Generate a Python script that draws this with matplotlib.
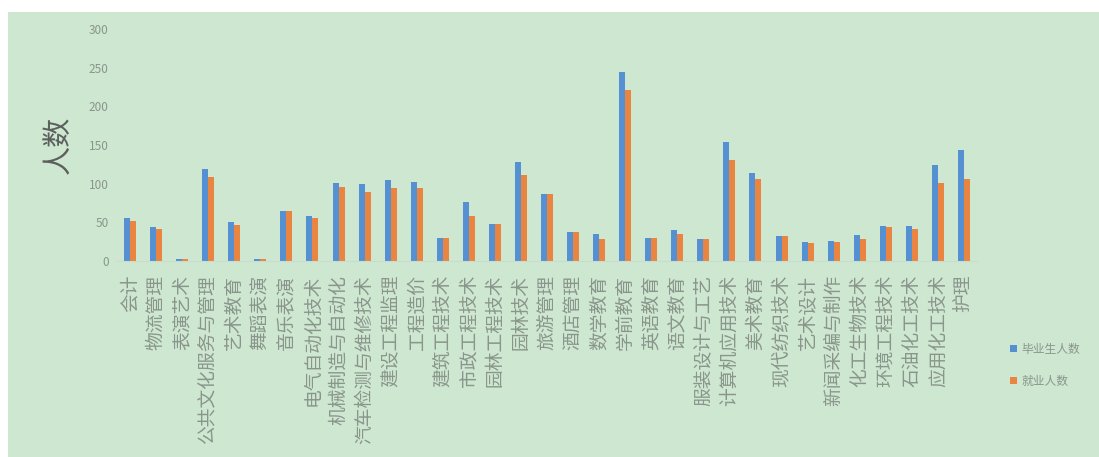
import numpy as np
from matplotlib import pyplot as plt
from matplotlib.patches import Rectangle

plt.rcParams['font.family'] = ['Noto Sans CJK SC', 'DejaVu Sans']

majors = ["会计", "物流管理", "表演艺术", "公共文化服务与管理", "艺术教育", "舞蹈表演",
          "音乐表演", "电气自动化技术", "机械制造与自动化", "汽车检测与维修技术",
          "建设工程监理", "工程造价", "建筑工程技术", "市政工程技术", "园林工程技术",
          "园林技术", "旅游管理", "酒店管理", "数学教育", "学前教育", "英语教育",
          "语文教育", "服装设计与工艺", "计算机应用技术", "美术教育", "现代纺织技术",
          "艺术设计", "新闻采编与制作", "化工生物技术", "环境工程技术", "石油化工技术",
          "应用化工技术", "护理"]

graduates = [55, 44, 3, 119, 51, 3, 65, 58, 101, 99, 105, 102, 30, 76, 48, 128, 87,
             38, 35, 245, 30, 40, 29, 154, 114, 32, 24, 26, 33, 45, 45, 124, 144]
employed = [52, 42, 2, 108, 46, 2, 65, 55, 96, 89, 95, 94, 30, 58, 48, 111, 87,
            38, 29, 221, 30, 35, 29, 130, 106, 32, 23, 25, 29, 44, 41, 101, 106]

series_names = ["毕业生人数", "就业人数"]

bg = "#cde7d0"
blue = "#5590d2"
orange = "#e98540"
txt = "#8a968c"

fig = plt.figure(figsize=(10.99, 4.57), dpi=100, facecolor="white")
# green chart area, white strip at top and left
fig.patches.append(Rectangle((8 / 1099, 0), 1 - 8 / 1099, 1 - 12 / 457,
                             transform=fig.transFigure, facecolor=bg,
                             edgecolor="none", zorder=-10))

ax = fig.add_axes([117 / 1099, 196 / 457, 860 / 1099, 232 / 457])
ax.set_facecolor("none")
ax.set_zorder(1)

x = np.arange(len(majors))
w = 0.23
b1 = ax.bar(x - w / 2, graduates, width=w, color=blue, label=series_names[0])
b2 = ax.bar(x + w / 2, employed, width=w, color=orange, label=series_names[1])

ax.set_xlim(-0.5, len(majors) - 0.5)
ax.set_ylim(0, 300)
ax.set_yticks(np.arange(0, 301, 50))
ax.set_xticks(x)
ax.set_xticklabels(majors, rotation=90, fontsize=13.5, color=txt)
ax.tick_params(axis="y", length=0, pad=6, labelsize=8.5, labelcolor=txt)
ax.tick_params(axis="x", length=0, pad=10)

for s in ["top", "right", "left"]:
    ax.spines[s].set_visible(False)
ax.spines["bottom"].set_color("#c8dccf")
ax.spines["bottom"].set_linewidth(0.8)

ax.set_ylabel("人数", fontsize=21, color="#5c5f5c", labelpad=11)

fig.legend(handles=[b1, b2], labels=series_names, loc="center left",
           bbox_to_anchor=(999 / 1099, 1 - 365 / 457), frameon=False,
           fontsize=8.5, labelcolor=txt, handlelength=0.6, handleheight=0.6,
           handletextpad=0.4, labelspacing=1.6)

plt.savefig("out.png", dpi=100, facecolor=fig.get_facecolor())
